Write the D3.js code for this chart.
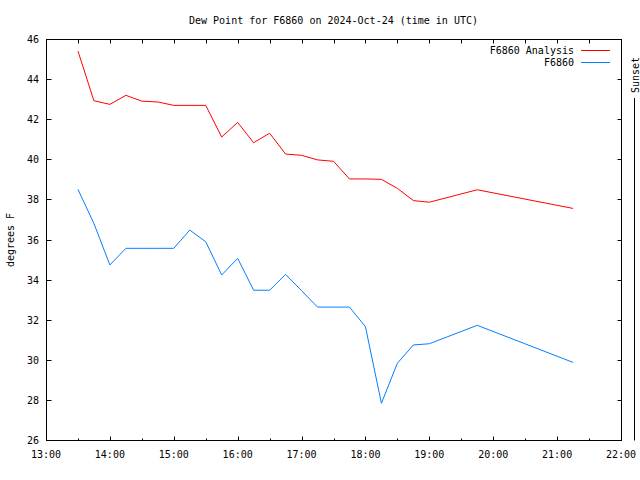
<!DOCTYPE html>
<html><head><meta charset="utf-8">
<script src="https://cdn.jsdelivr.net/npm/d3@7"></script>
<style>
body{margin:0;background:#fff;}
text{font-family:"DejaVu Sans Mono",monospace;font-size:10px;fill:#000;}
</style></head>
<body><svg id="c" width="640" height="480"></svg>
<script>
const times = ["13:30","13:45","14:00","14:15","14:30","14:45","15:00","15:15","15:30","15:45","16:00","16:15","16:30","16:45","17:00","17:15","17:30","17:45","18:00","18:15","18:30","18:45","19:00","19:45","21:15"];
const analysis = [45.4,42.92,42.74,43.19,42.9,42.86,42.69,42.69,42.69,41.11,41.84,40.83,41.3,40.26,40.2,39.97,39.9,39.02,39.02,39.0,38.55,37.94,37.86,38.48,37.55];
const obs = [38.5,36.8,34.73,35.56,35.56,35.56,35.56,36.47,35.89,34.23,35.06,33.47,33.47,34.26,33.45,32.63,32.63,32.63,31.65,27.83,29.83,30.74,30.8,31.72,29.87];
const xTickLabels = ["13:00","14:00","15:00","16:00","17:00","18:00","19:00","20:00","21:00","22:00"];
const yTicks = [26,28,30,32,34,36,38,40,42,44,46];
const seriesNames = ["F6860 Analysis","F6860"];
const seriesColors = ["#ff0000","#0080ff"];
const title = "Dew Point for F6860 on 2024-Oct-24 (time in UTC)";
const yLabel = "degrees F";
const sunsetLabel = "Sunset";

const toH = s => { const [h,m] = s.split(":").map(Number); return h + m/60; };
const L=46, R=621, T=39, B=440;
const x = d3.scaleLinear().domain([13,22]).range([L,R]);
const y = d3.scaleLinear().domain([26,46]).range([B,T]);
const svg = d3.select("#c");

// title
svg.append("text").attr("x",(L+R)/2).attr("y",24).attr("text-anchor","middle").text(title);

const majors = xTickLabels.map(toH);
const minors = d3.range(13.5,22,1);

// axes frame
const g = svg.append("g");
g.append("rect").attr("x",L+0.5).attr("y",T+0.5).attr("width",R-L).attr("height",B-T)
  .attr("fill","none").attr("stroke","#000");
// x ticks bottom & top
majors.forEach(h=>{
  const px = Math.round(x(h))+0.5;
  g.append("line").attr("x1",px).attr("x2",px).attr("y1",B+0.5).attr("y2",B-3.5).attr("stroke","#000");
  g.append("line").attr("x1",px).attr("x2",px).attr("y1",T+0.5).attr("y2",T+4.5).attr("stroke","#000");
});
minors.forEach(h=>{
  const px = Math.round(x(h))+0.5;
  g.append("line").attr("x1",px).attr("x2",px).attr("y1",B+0.5).attr("y2",B-1.5).attr("stroke","#000");
  g.append("line").attr("x1",px).attr("x2",px).attr("y1",T+0.5).attr("y2",T+4.5).attr("stroke","#000");
});
xTickLabels.forEach(s=>{
  g.append("text").attr("x",x(toH(s))).attr("y",458).attr("text-anchor","middle").text(s);
});
// y ticks
yTicks.forEach(v=>{
  const py = Math.round(y(v))+0.5;
  g.append("line").attr("x1",L+0.5).attr("x2",L+5.5).attr("y1",py).attr("y2",py).attr("stroke","#000");
  g.append("line").attr("x1",R+0.5).attr("x2",R-3.5).attr("y1",py).attr("y2",py).attr("stroke","#000");
  g.append("text").attr("x",39).attr("y",y(v)+4).attr("text-anchor","end").text(v);
});
// y label
svg.append("text").attr("transform","translate(14,240) rotate(-90)").attr("text-anchor","middle").text(yLabel);

// sunset
svg.append("line").attr("x1",634.5).attr("x2",634.5).attr("y1",98).attr("y2",B+0.5).attr("stroke","#000");
svg.append("text").attr("transform","translate(639,75) rotate(-90)").attr("text-anchor","middle").text(sunsetLabel);

// lines
const line = d3.line().x((d,i)=>x(toH(times[i]))).y(d=>y(d));
[analysis,obs].forEach((s,k)=>{
  svg.append("path").datum(s).attr("d",line).attr("fill","none")
    .attr("stroke",seriesColors[k]).attr("stroke-width",1);
});

// legend
seriesNames.forEach((n,k)=>{
  const cy = 50 + k*12;
  svg.append("text").attr("x",574).attr("y",cy+4).attr("text-anchor","end").text(n);
  svg.append("line").attr("x1",581).attr("x2",610).attr("y1",cy+0.5).attr("y2",cy+0.5)
    .attr("stroke",seriesColors[k]).attr("stroke-width",1);
});
</script></body></html>
